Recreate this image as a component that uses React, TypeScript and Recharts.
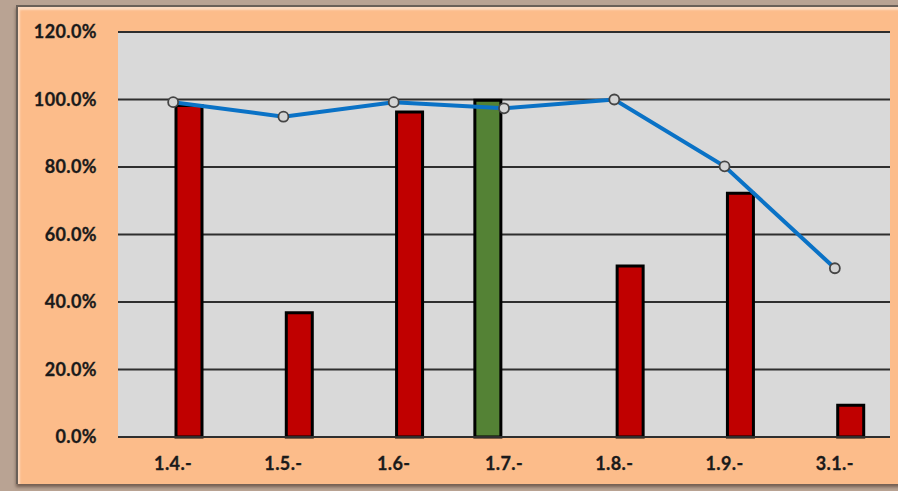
import React from "react";
import {
  ComposedChart,
  Bar,
  Line,
  XAxis,
  YAxis,
  CartesianGrid,
} from "recharts";

// Categories and series (percent values)
const categories = ["1.4.-", "1.5.-", "1.6-", "1.7.-", "1.8.-", "1.9.-", "3.1.-"];
const actualRed = [98.2, 36.8, 96.3, null, 50.7, 72.2, 9.4];
const actualGreen = [null, null, null, 99.8, null, null, null];
const targetLine = [99.2, 94.9, 99.2, 97.4, 100, 80.2, 50];
const yTicks = [0, 20, 40, 60, 80, 100, 120];

const data = categories.map((name, i) => ({
  name,
  green: actualGreen[i],
  red: actualRed[i],
  target: targetLine[i],
}));

const W = 898;
const H = 491;
const FONT = "Lato, 'Open Sans', sans-serif";

const tickStyle = {
  fontFamily: FONT,
  fontSize: 18,
  fontWeight: 700,
  letterSpacing: 0.4,
  fill: "#1a1a1a",
  stroke: "#1a1a1a",
  strokeWidth: 0.3,
};

const App: React.FC = () => {
  return (
    <div
      style={{
        position: "fixed",
        left: 0,
        top: 0,
        width: W,
        height: H,
        background: "#B9A393",
        overflow: "hidden",
      }}
    >
      {/* orange chart panel with a dark bevel edge */}
      <div
        style={{
          position: "absolute",
          left: 16,
          top: 5,
          width: W,
          height: 477,
          background: "#FCBC8A",
          borderLeft: "2px solid #6a6058",
          borderTop: "2px solid #6a6058",
          boxShadow: "inset 2px 3px 2px rgba(255,255,255,0.45), 0 3px 3px rgba(60,40,30,0.55)",
        }}
      />
      <div style={{ position: "absolute", left: 0, top: 0 }}>
        <ComposedChart
          width={W}
          height={H}
          data={data}
          margin={{ top: 32, right: 8, bottom: 24, left: 0 }}
          barSize={26}
          barGap={6}
        >
          <CartesianGrid
            vertical={false}
            fill="#D9D9D9"
            stroke="#2e2e2e"
            strokeWidth={1.8}
          />
          <XAxis
            dataKey="name"
            height={30}
            axisLine={{ stroke: "#2e2e2e", strokeWidth: 1.8 }}
            tickLine={false}
            tickSize={0}
            tickMargin={20}
            tick={tickStyle}
          />
          <YAxis
            width={118}
            domain={[0, 120]}
            ticks={yTicks}
            axisLine={false}
            tickLine={false}
            tickSize={0}
            tickMargin={21}
            tick={tickStyle}
            tickFormatter={(v: number) => `${v.toFixed(1)}%`}
          />
          <Bar
            dataKey="green"
            fill="#548235"
            stroke="#000000"
            strokeWidth={3}
            isAnimationActive={false}
          />
          <Bar
            dataKey="red"
            fill="#C00000"
            stroke="#000000"
            strokeWidth={3}
            isAnimationActive={false}
          />
          <Line
            type="linear"
            dataKey="target"
            stroke="#0A72C6"
            strokeWidth={4}
            dot={{ r: 5, fill: "#D4D4D4", stroke: "#454545", strokeWidth: 1.8 }}
            activeDot={false}
            isAnimationActive={false}
          />
        </ComposedChart>
      </div>
    </div>
  );
};

export default App;
